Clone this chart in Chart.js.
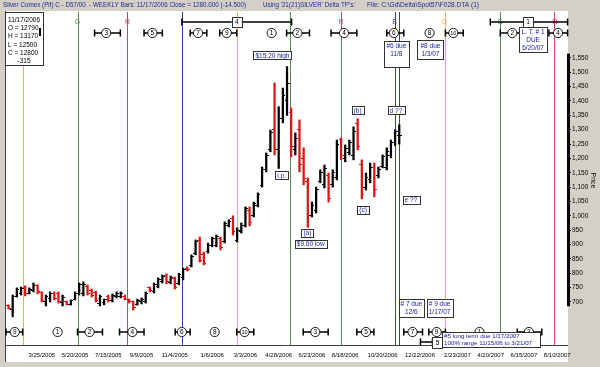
<!DOCTYPE html>
<html>
<head>
<meta charset="utf-8">
<script src="https://cdn.jsdelivr.net/npm/chart.js@4.4.1/dist/chart.umd.min.js"></script>
<style>
  html, body { margin: 0; padding: 0; background: #D4D0C8; }
  canvas { display: block; }
</style>
</head>
<body>
<canvas id="chart" width="600" height="367"></canvas>
<script>
/* =============================================
   DATA  (x = weeks after 3/25/2005, y = cents)
   ============================================= */
const firstWeek = -8;   // first weekly bar, late Jan 2005

const highs = [
  690, 724, 749, 752, 756, 749, 766, 760, 735, 724,
  735, 735, 735, 724, 703, 707, 735, 766, 770, 759,
  745, 738, 724, 710, 724, 728, 735, 735, 724, 710,
  703, 710, 714, 735, 752, 766, 784, 794, 798, 790,
  787, 800, 818, 822, 864, 916, 926, 874, 905, 926,
  933, 926, 979, 986, 1000, 958, 975, 1031, 1031, 1048,
  1080, 1170, 1219, 1299, 1463, 1380, 1445, 1520, 1376, 1289,
  1334, 1237, 1132, 1048, 1100, 1160, 1177, 1149, 1160, 1264,
  1271, 1247, 1264, 1310, 1338, 1195, 1149, 1184, 1184, 1170,
  1212, 1237, 1264, 1300, 1317
];
const lows = [
  675, 648, 717, 724, 721, 728, 735, 728, 700, 686,
  700, 707, 696, 686, 689, 689, 707, 724, 721, 724,
  717, 700, 686, 690, 700, 700, 714, 714, 707, 696,
  672, 689, 693, 696, 735, 731, 749, 766, 763, 763,
  745, 760, 777, 808, 822, 864, 839, 829, 870, 892,
  892, 881, 906, 961, 933, 909, 940, 961, 965, 996,
  1031, 1100, 1153, 1223, 1212, 1165, 1324, 1350, 1205, 1212,
  1153, 1108, 960, 996, 1010, 1115, 1097, 1048, 1100, 1125,
  1195, 1188, 1212, 1195, 1230, 1059, 1090, 1115, 1066, 1132,
  1167, 1160, 1202, 1245, 1250
];
const opens = [
  688, 672, 720, 730, 750, 730, 740, 756, 733, 700,
  712, 730, 728, 698, 700, 692, 708, 728, 730, 755,
  740, 732, 695, 698, 720, 706, 718, 720, 720, 708,
  700, 690, 700, 702, 750, 738, 755, 770, 792, 768,
  782, 765, 785, 818, 828, 868, 915, 865, 875, 896,
  898, 920, 912, 965, 990, 915, 945, 968, 1020, 1000,
  1035, 1105, 1160, 1230, 1300, 1230, 1340, 1400, 1360, 1230,
  1300, 1200, 1120, 1000, 1020, 1120, 1110, 1140, 1110, 1135,
  1265, 1200, 1220, 1210, 1320, 1180, 1100, 1125, 1170, 1140,
  1172, 1170, 1210, 1255, 1279
];
const closes = [
  678, 718, 742, 748, 728, 745, 758, 735, 705, 718,
  730, 712, 700, 716, 692, 704, 730, 760, 762, 730,
  722, 705, 718, 708, 705, 722, 730, 728, 710, 700,
  680, 705, 710, 730, 740, 760, 778, 788, 770, 785,
  752, 795, 812, 812, 858, 910, 845, 835, 898, 920,
  928, 888, 972, 980, 945, 950, 968, 1025, 975, 1042,
  1075, 1160, 1210, 1290, 1230, 1340, 1420, 1460, 1240, 1270,
  1180, 1130, 1000, 1035, 1090, 1150, 1165, 1060, 1150, 1250,
  1210, 1235, 1255, 1295, 1240, 1075, 1135, 1170, 1090, 1160,
  1205, 1225, 1255, 1295, 1280
];

/* axis ticks */
const tickWeeks = [0, 8, 16, 24, 32, 41, 49, 57, 65, 73, 82, 91, 100, 108, 116, 124];
const tickDates = ['3/25/2005', '5/20/2005', '7/15/2005', '9/9/2005', '11/4/2005', '1/6/2006',
  '3/3/2006', '4/28/2006', '6/23/2006', '8/18/2006', '10/20/2006', '12/22/2006',
  '2/23/2007', '4/20/2007', '6/15/2007', '8/10/2007'];
const priceTicks = [700, 750, 800, 850, 900, 950, 1000, 1050, 1100, 1150, 1200,
  1250, 1300, 1350, 1400, 1450, 1500, 1550];

/* Delta turning-point lines */
const cycleWeeks = [-4.5, 8.6, 20.6, 33.7, 46.9, 59.8, 72.0, 84.9, 85.9, 96.9, 110.3, 123.2];
const cycleKinds = ['O', 'G', 'R', 'B', 'O', 'G', 'R', 'B', 'B', 'O', 'G', 'R'];
const cycleLetters = [[8.6, 'G'], [20.6, 'R'], [72.0, 'R'], [84.9, 'B'], [96.9, 'O'], [110.3, 'G'], [123.4, 'R']];

/* numbered turning points: [label, centre week, range from, range to] */
const topPoints = [
  ['3', 15.5, 12.7, 18.9], ['5', 26.6, 24.6, 29.0], ['7', 37.6, 35.7, 39.7],
  ['9', 44.5, 42.8, 46.9], ['1', 55.3], ['2', 61.5, 58.9, 64.4],
  ['4', 72.7, 69.6, 75.8], ['6', 84.7, 83.0, 87.1], ['8', 93.3],
  ['10', 99.0, 97.1, 101.4], ['2', 113.2, 110.3, 115.1], ['4', 124.2, 122.0, 126.5]
];
const bottomPoints = [
  ['9', -6.5, -8.6, -4.6], ['1', 3.8], ['2', 11.5, 8.6, 14.6], ['4', 21.8, 18.7, 24.6],
  ['6', 33.7, 32.1, 35.7], ['8', 41.6], ['10', 48.8, 46.9, 51.0],
  ['3', 65.8, 62.9, 68.9], ['5', 78.0, 75.8, 79.9], ['7', 89.2, 87.1, 91.6],
  ['9', 95.0, 93.1, 97.1], ['1', 105.3], ['3', 117.2, 114.4, 120.3]
];
/* long-term ranges on the top row: [from, to, box label, box week] */
const longRanges = [[33.7, 60.1, '4', 46.9], [107.9, 126.5, '1', 117.0]];

/* price-anchored wave labels: [text, week, price] */
const waveLabels = [
  ['$15.20 high', 55.5, 1559], ['i.p.', 57.7, 1141], ['(a)', 63.9, 940],
  ['$9.60 low', 64.7, 902], ['(b)', 76.0, 1367], ['(c)', 77.3, 1022],
  ['d ??', 85.2, 1367], ['e ??', 88.8, 1055]
];

const infoLines = ['11/17/2006', 'O = 12790', 'H = 13170', 'L = 12500', 'C = 12800'];
const infoChange = '-315';
const titleParts = [
  "Silver Comex (Pit) C - D57/00  - WEEKLY Bars: 11/17/2006 Close = 1280.000 (-14.500)",
  "Using '21(21)SILVER' Delta TP's:",
  "File: C:\\Gd\\Delta\\Spot57\\F028.DTA (1)"
];

/* =============================================
   STYLE
   ============================================= */
const FONT = '"Liberation Sans", Arial, sans-serif';
const BLUE_TXT = '#1E22A0';
const UP = '#000000';
const DOWN = '#DC1414';
const LINE_COL = { O: '#EDAE5E', G: '#4F8A55', R: '#C8426A', B: '#3A3AB4' };

function tickImg(color, side) {
  const c = document.createElement('canvas');
  c.width = 5; c.height = 1;
  const g = c.getContext('2d');
  g.fillStyle = color;
  g.fillRect(side === 'left' ? 0 : 3, 0, 2, 1);
  return c;
}
const IMG = {
  openUp: tickImg(UP, 'left'), openDown: tickImg(DOWN, 'left'),
  closeUp: tickImg(UP, 'right'), closeDown: tickImg(DOWN, 'right')
};

const isDown = i => closes[i] < opens[i];
const barColors = highs.map((_, i) => isDown(i) ? DOWN : UP);

/* =============================================
   DRAW HELPERS
   ============================================= */
function rangeBar(ctx, x1, x2, y) {
  ctx.strokeStyle = '#000';
  ctx.lineWidth = 1.5;
  ctx.beginPath();
  ctx.moveTo(x1, y); ctx.lineTo(x2, y);
  ctx.moveTo(x1, y - 3.5); ctx.lineTo(x1, y + 3.5);
  ctx.moveTo(x2, y - 3.5); ctx.lineTo(x2, y + 3.5);
  ctx.stroke();
}
function circleNum(ctx, x, y, t) {
  ctx.beginPath();
  ctx.arc(x, y, 4.6, 0, Math.PI * 2);
  ctx.fillStyle = '#fff'; ctx.fill();
  ctx.lineWidth = 0.9; ctx.strokeStyle = '#000'; ctx.stroke();
  ctx.fillStyle = '#000';
  ctx.font = (t.length > 1 ? '5.5px ' : '6.5px ') + FONT;
  ctx.textAlign = 'center'; ctx.textBaseline = 'middle';
  ctx.fillText(t, x, y + 0.4);
}
function box(ctx, x, y, w, h, lines, color, size, lh, align) {
  ctx.fillStyle = '#fff';
  ctx.fillRect(x, y, w, h);
  ctx.strokeStyle = '#333';
  ctx.lineWidth = 1;
  ctx.strokeRect(Math.round(x) + 0.5, Math.round(y) + 0.5, Math.round(w), Math.round(h));
  ctx.fillStyle = color;
  ctx.font = size + 'px ' + FONT;
  ctx.textBaseline = 'middle';
  ctx.textAlign = align || 'center';
  const tx = align === 'left' ? x + 2 : x + w / 2;
  const y0 = y + h / 2 - (lines.length - 1) * lh / 2 + 0.5;
  lines.forEach((l, i) => ctx.fillText(l, tx, y0 + i * lh));
}
function fitText(ctx, text, x, y, width) {
  const m = ctx.measureText(text).width;
  ctx.save();
  ctx.translate(x, y);
  ctx.scale(width / m, 1);
  ctx.fillText(text, 0, 0);
  ctx.restore();
}

/* =============================================
   OVERLAY PLUGIN (frame, cycle lines, labels)
   ============================================= */
const overlay = {
  id: 'overlay',
  beforeDraw(chart) {
    const { ctx, chartArea: a, width, height } = chart;
    ctx.save();
    ctx.fillStyle = '#D4D0C8';
    ctx.fillRect(0, 0, width, height);
    ctx.fillStyle = '#fff';
    ctx.fillRect(a.left, a.top - 1, a.right - a.left, height - 5 - a.top + 1);
    ctx.strokeStyle = '#404040';
    ctx.lineWidth = 1;
    ctx.beginPath();
    ctx.moveTo(a.left + 0.5, a.top - 1); ctx.lineTo(a.left + 0.5, height - 5);
    ctx.moveTo(a.left, a.bottom + 0.5); ctx.lineTo(a.right, a.bottom + 0.5);
    ctx.stroke();
    ctx.restore();
  },
  beforeDatasetsDraw(chart) {
    const { ctx, chartArea: a, scales: { x } } = chart;
    ctx.save();
    ctx.lineWidth = 1;
    cycleWeeks.forEach((w, i) => {
      const px = Math.round(x.getPixelForValue(w)) + 0.5;
      ctx.strokeStyle = LINE_COL[cycleKinds[i]];
      ctx.beginPath();
      ctx.moveTo(px, a.top); ctx.lineTo(px, a.bottom);
      ctx.stroke();
    });
    ctx.restore();
  },
  afterDraw(chart) {
    const { ctx, chartArea: a, scales: { x, y } } = chart;
    const X = v => x.getPixelForValue(v);
    const Y = v => y.getPixelForValue(v);
    ctx.save();

    // title bar
    ctx.fillStyle = '#1F2C8E';
    ctx.font = '6.5px ' + FONT;
    ctx.textAlign = 'left'; ctx.textBaseline = 'middle';
    fitText(ctx, titleParts[0], 3, 5.5, 243);
    fitText(ctx, titleParts[1], 263, 5.5, 92);
    fitText(ctx, titleParts[2], 367, 5.5, 112);

    // info box
    box(ctx, a.left, a.top, 38, 53, [], '#000', 6.5, 8);
    ctx.fillStyle = '#000';
    ctx.font = '6.5px ' + FONT;
    ctx.textAlign = 'left';
    infoLines.forEach((l, i) => ctx.fillText(l, a.left + 3, a.top + 8 + i * 8.3));
    ctx.textAlign = 'center';
    ctx.fillText(infoChange, a.left + 19, a.top + 49);
    ctx.fillRect(a.left + 34, a.top + 16, 2, 8);

    const rowTop = a.top + 10, rowCirc = a.top + 21, rowBot = a.bottom - 13;

    // letters above the cycle lines
    ctx.font = '7px ' + FONT;
    ctx.textAlign = 'center';
    cycleLetters.forEach(([w, t]) => {
      ctx.fillStyle = LINE_COL[t];
      ctx.fillText(t, X(w), rowTop);
    });

    // long-term ranges
    longRanges.forEach(([f, t, lbl, bw]) => {
      rangeBar(ctx, X(f), X(t), rowTop);
      box(ctx, X(bw) - 5, rowTop - 5, 10, 10, [lbl], '#000', 6.5, 8);
    });

    // numbered points
    topPoints.forEach(([t, c, f, to]) => {
      if (f !== undefined) rangeBar(ctx, X(f), X(to), rowCirc);
      circleNum(ctx, X(c), rowCirc, t);
    });
    bottomPoints.forEach(([t, c, f, to]) => {
      if (f !== undefined) rangeBar(ctx, X(f), X(to), rowBot);
      circleNum(ctx, X(c), rowBot, t);
    });

    // due boxes
    box(ctx, X(85.3) - 12.5, a.top + 29, 25, 26, ['#6 due', '11/8', ''], BLUE_TXT, 6.5, 8.5);
    box(ctx, X(93.5) - 13, a.top + 28, 26, 19, ['#8 due', '1/3/07'], BLUE_TXT, 6.5, 8);
    box(ctx, X(118.2) - 14, a.top + 15, 28, 25, ['L. T. # 1', 'DUE', '6/20/07'], BLUE_TXT, 6.5, 7.8);
    box(ctx, X(88.9) - 12.5, a.bottom - 46, 25, 18, ['# 7 due', '12/6'], BLUE_TXT, 6.5, 8);
    box(ctx, X(95.7) - 13, a.bottom - 46, 26, 18, ['# 9 due', '1/17/07'], BLUE_TXT, 6.5, 8);

    // long term #5 note
    rangeBar(ctx, X(91.1), X(94.0), a.bottom - 3);
    box(ctx, X(95.2) - 5, a.bottom - 8, 10, 11, ['5'], '#000', 6.5, 8);
    box(ctx, X(96.3), a.bottom - 13, X(119.9) - X(96.3), 15,
      ['#5 long term due 1/17/2007', '100% range 11/15/06 to 3/21/07'], BLUE_TXT, 6.2, 6.8, 'left');

    // wave labels
    waveLabels.forEach(([t, w, p]) => {
      ctx.font = '6.5px ' + FONT;
      const tw = ctx.measureText(t).width + 4;
      box(ctx, X(w) - tw / 2, Y(p) - 4, tw, 8, [t], BLUE_TXT, 6.5, 8);
    });

    // price scale bar and title
    ctx.fillStyle = '#000';
    ctx.fillRect(a.right - 1, Y(1565), 3, Y(685) - Y(1565));
    ctx.save();
    ctx.translate(593, (a.top + a.bottom) / 2 + 2);
    ctx.rotate(Math.PI / 2);
    ctx.font = '7px ' + FONT;
    ctx.textAlign = 'center'; ctx.textBaseline = 'middle';
    ctx.fillText('Price', 0, 0);
    ctx.restore();

    ctx.restore();
  }
};

/* =============================================
   CHART
   ============================================= */
const weekAt = i => firstWeek + i;

new Chart(document.getElementById('chart').getContext('2d'), {
  type: 'bar',
  data: {
    datasets: [
      {
        type: 'bar',
        data: highs.map((h, i) => ({ x: weekAt(i), y: [lows[i], h] })),
        backgroundColor: barColors,
        barThickness: 1.6,
        borderWidth: 0
      },
      {
        type: 'scatter',
        data: opens.map((v, i) => ({ x: weekAt(i), y: v })),
        pointStyle: opens.map((_, i) => isDown(i) ? IMG.openDown : IMG.openUp),
        pointRadius: 2
      },
      {
        type: 'scatter',
        data: closes.map((v, i) => ({ x: weekAt(i), y: v })),
        pointStyle: closes.map((_, i) => isDown(i) ? IMG.closeDown : IMG.closeUp),
        pointRadius: 2
      }
    ]
  },
  options: {
    responsive: false,
    animation: false,
    events: [],
    layout: { padding: { left: 2, top: 12, right: 0, bottom: 0 } },
    plugins: { legend: { display: false }, tooltip: { enabled: false } },
    scales: {
      x: {
        type: 'linear',
        min: -8.85,
        max: 126.6,
        offset: false,
        grid: { display: false, drawTicks: false },
        border: { display: false },
        afterBuildTicks: s => { s.ticks = tickWeeks.map(v => ({ value: v })); },
        afterFit: s => { s.height = 22; },
        ticks: {
          autoSkip: false,
          maxRotation: 0,
          padding: 7,
          color: '#000',
          font: { family: FONT, size: 6 },
          callback: v => {
            const i = tickWeeks.indexOf(v);
            return i >= 0 ? tickDates[i] : '';
          }
        }
      },
      y: {
        position: 'right',
        min: 550,
        max: 1710,
        grid: { drawOnChartArea: false, drawTicks: true, tickLength: 3, color: '#000' },
        border: { display: false },
        afterBuildTicks: s => { s.ticks = priceTicks.map(v => ({ value: v })); },
        afterFit: s => { s.width = 32; },
        ticks: {
          padding: 1,
          color: '#000',
          font: { family: FONT, size: 6.5 },
          callback: v => v.toLocaleString('en-US')
        }
      }
    }
  },
  plugins: [overlay]
});
</script>
</body>
</html>
